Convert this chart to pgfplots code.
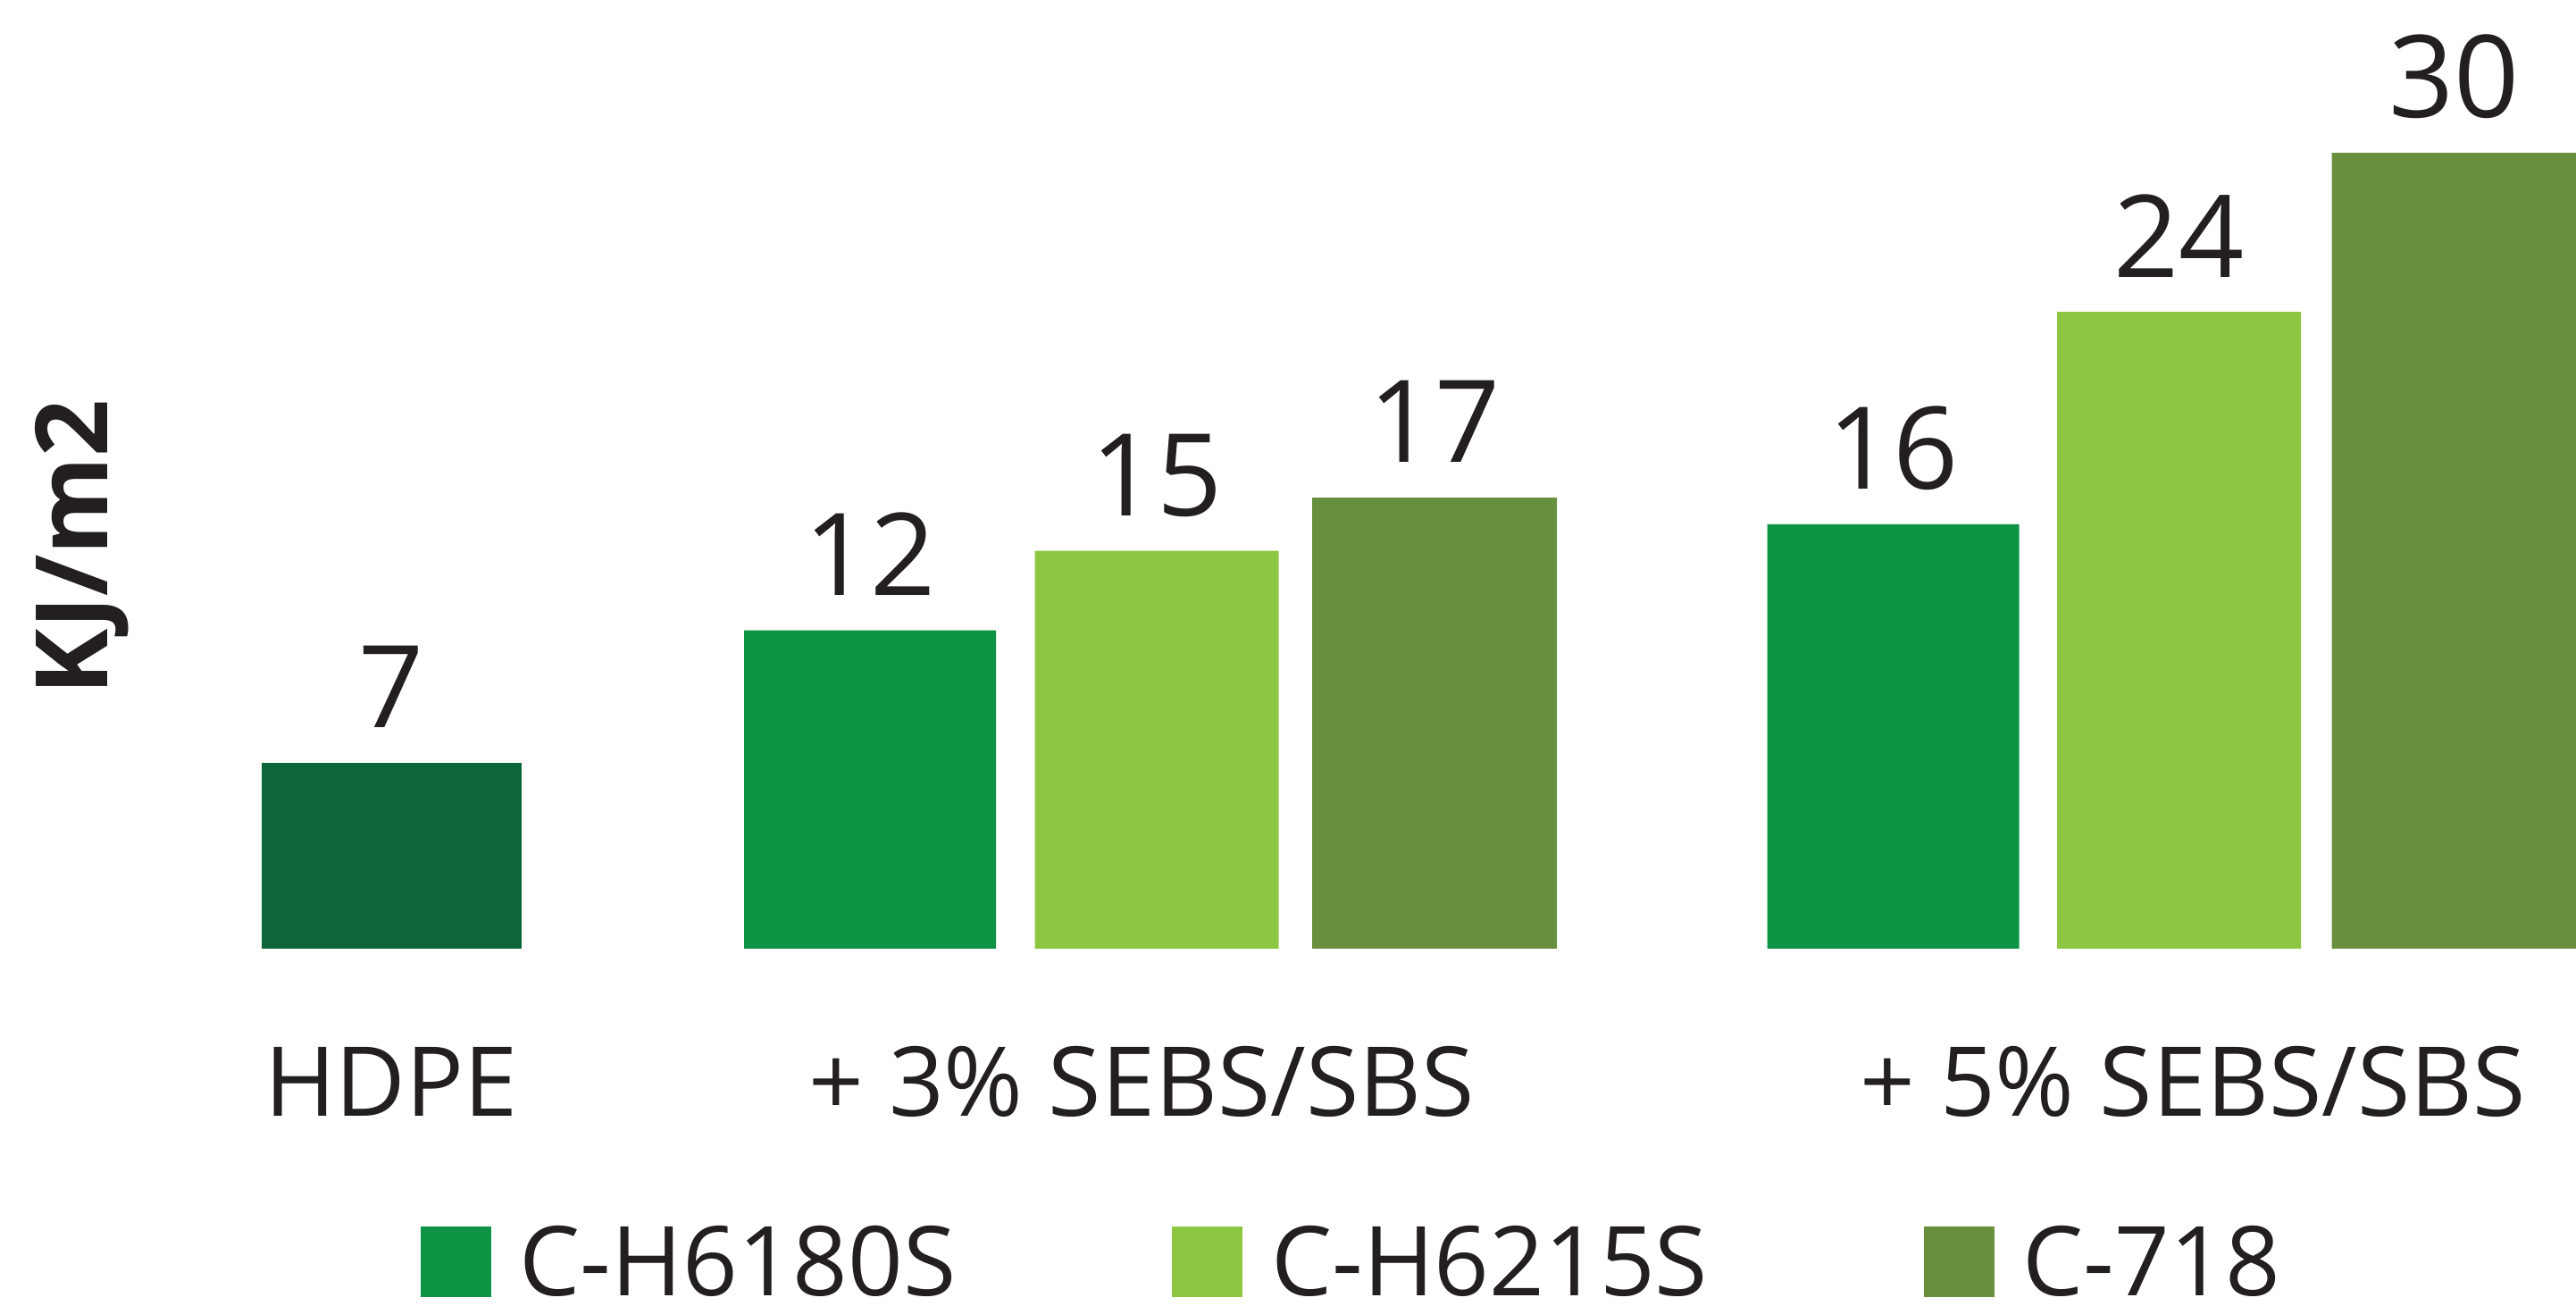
\documentclass[border=0pt]{standalone}
\usepackage{fontspec}
\setmainfont{Open Sans}
\usepackage{pgfplots}
\pgfplotsset{compat=1.18}
\definecolor{hdpe}{HTML}{0C6639}
\definecolor{ca}{HTML}{0E9344}
\definecolor{cb}{HTML}{8DC641}
\definecolor{cc}{HTML}{688F3D}
\definecolor{txt}{HTML}{231F20}
\begin{document}
\begin{tikzpicture}
\path[use as bounding box] (0pt,-100pt) rectangle (721pt,265.5pt);
\begin{axis}[
  scale only axis, width=721pt, height=265.5pt,
  xmin=0, xmax=2884, ymin=0, ymax=35.76,
  enlargelimits=false, clip=false,
  axis line style={draw=none}, tick style={draw=none},
  ytick=\empty,
  xtick={438,1278,2455},
  xticklabels={HDPE,+ 3\% SEBS/SBS,+ 5\% SEBS/SBS},
  xticklabel style={anchor=base, yshift=-42.5pt, font=\fontsize{27}{30}\selectfont, text=txt},
  ybar, bar shift=0pt,
  /pgf/number format/assume math mode=true,
  nodes near coords,
  nodes near coords style={anchor=base, yshift=9.8pt, font=\fontsize{32}{36}\selectfont, text=txt},
  legend columns=3,
  legend style={at={(axis description cs:0.16297,-0.3719)}, anchor=south west,
    draw=none, fill=none, inner sep=0pt, nodes={inner sep=0pt},
    font=\fontsize{27}{30}\selectfont, text=txt,
    /tikz/every odd column/.append style={column sep=8pt},
    /tikz/every even column/.append style={column sep=60.4pt}},
  legend image code/.code={\fill[#1] (0pt,-9.5pt) rectangle (19.75pt,10.25pt);},
]
\addplot[fill=hdpe, draw=none, bar width=291, forget plot] coordinates {(438.5,7)};
\addplot[fill=ca, draw=none, bar width=282] coordinates {(974,12) (2119.5,16)};
\addlegendentry{C-H6180S}
\addplot[fill=cb, draw=none, bar width=273] coordinates {(1295,15) (2439.5,24)};
\addlegendentry{C-H6215S}
\addplot[fill=cc, draw=none, bar width=274] coordinates {(1606,17) (2747.5,30)};
\addlegendentry{C-718}
\node[rotate=90, anchor=base, font=\bfseries\fontsize{28}{30}\selectfont, text=txt] at (axis cs:121,15.12) {KJ/m2};
\end{axis}
\end{tikzpicture}
\end{document}
